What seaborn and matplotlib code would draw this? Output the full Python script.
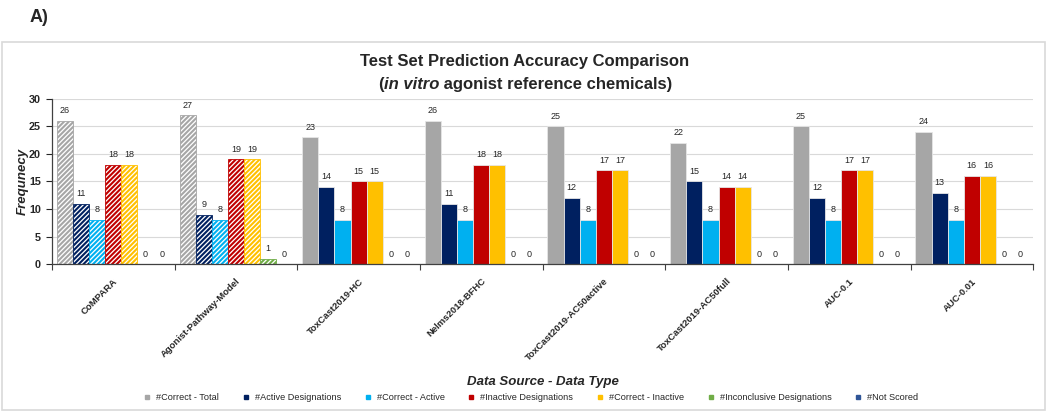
import matplotlib
matplotlib.use('Agg')
import matplotlib.pyplot as plt
from matplotlib.lines import Line2D
from matplotlib.patches import Rectangle
import seaborn as sns
import pandas as pd

# data
sources = ['CoMPARA', 'Agonist-Pathway-Model', 'ToxCast2019-HC', 'Nelms2018-BFHC',
           'ToxCast2019-AC50active', 'ToxCast2019-AC50full', 'AUC-0.1', 'AUC-0.01']
measures = ['#Correct - Total', '#Active Designations', '#Correct - Active',
            '#Inactive Designations', '#Correct - Inactive',
            '#Inconclusive Designations', '#Not Scored']
correct_total = [26, 27, 23, 26, 25, 22, 25, 24]
active_desig = [11, 9, 14, 11, 12, 15, 12, 13]
correct_active = [8, 8, 8, 8, 8, 8, 8, 8]
inactive_desig = [18, 19, 15, 18, 17, 14, 17, 16]
correct_inactive = [18, 19, 15, 18, 17, 14, 17, 16]
inconclusive = [0, 1, 0, 0, 0, 0, 0, 0]
not_scored = [0, 0, 0, 0, 0, 0, 0, 0]
hatched_sources = ['CoMPARA', 'Agonist-Pathway-Model']

colors = ['#A6A6A6', '#002060', '#00B0F0', '#C00000', '#FFC000', '#70AD47', '#2F5597']

series = [correct_total, active_desig, correct_active, inactive_desig,
          correct_inactive, inconclusive, not_scored]
rows = []
for m, vals in zip(measures, series):
    for s, v in zip(sources, vals):
        rows.append({'source': s, 'measure': m, 'count': v})
df = pd.DataFrame(rows)

sns.set_style('white')
plt.rcParams['font.family'] = ['Liberation Sans', 'DejaVu Sans']
plt.rcParams['hatch.linewidth'] = 1.5

fig = plt.figure(figsize=(10.5, 4.12), dpi=100)
ax = fig.add_axes([0.0495, 0.359, 0.9345, 0.401])

sns.barplot(data=df, x='source', y='count', hue='measure', order=sources,
            hue_order=measures, palette=colors, saturation=1, width=0.92, gap=0,
            edgecolor='#E6E6E6', linewidth=0.6, legend=False, ax=ax)

# hatched bars for the first two sources
for cont, col in zip(ax.containers, colors):
    for bar in cont:
        idx = int(round(bar.get_x() + bar.get_width() / 2))
        if sources[idx] in hatched_sources:
            bar.set_facecolor('white')
            bar.set_edgecolor(col)
            bar.set_hatch('///////')
            bar.set_linewidth(0.6)
    ax.bar_label(cont, fmt='%g', padding=4, fontsize=6.5, color='#262626')

ax.set_ylim(0, 30)
ax.set_xlim(-0.5, len(sources) - 0.5)
ax.set_yticks(range(0, 31, 5))
ax.yaxis.grid(True, color='#D9D9D9', linewidth=0.8)
ax.set_axisbelow(True)
for side in ['top', 'right']:
    ax.spines[side].set_visible(False)
for side in ['left', 'bottom']:
    ax.spines[side].set_color('#404040')
    ax.spines[side].set_linewidth(0.9)

ax.tick_params(axis='y', left=True, length=4, width=0.8, labelsize=7.8, pad=4)
for lab in ax.get_yticklabels():
    lab.set_fontweight('bold')
ax.set_xticks(range(len(sources)))
ax.set_xticklabels(sources, rotation=45, ha='right', rotation_mode='anchor',
                   fontsize=6.8, fontweight='bold')
ax.tick_params(axis='x', which='major', length=0, pad=9)
ax.set_xticks([i + 0.5 for i in range(-1, len(sources))], minor=True)
ax.tick_params(axis='x', which='minor', bottom=True, length=4, width=0.8, color='#404040')

ax.set_xlabel('Data Source - Data Type', fontsize=9.5, fontweight='bold',
              fontstyle='italic')
ax.xaxis.set_label_coords(0.5, -0.68)
ax.set_ylabel('Frequnecy', fontsize=9.5, fontweight='bold', fontstyle='italic', labelpad=0)

# title, second line with italic part
fig.text(0.5, 0.85, 'Test Set Prediction Accuracy Comparison', ha='center',
         va='center', fontsize=12, fontweight='bold')
parts = [('(', 'normal'), ('in vitro', 'italic'), (' agonist reference chemicals)', 'normal')]
renderer = fig.canvas.get_renderer()
texts = []
for s, st in parts:
    t = fig.text(0, 0.795, s, ha='left', va='center', fontsize=12,
                 fontweight='bold', fontstyle=st)
    texts.append(t)
widths = [t.get_window_extent(renderer).width for t in texts]
x = (fig.bbox.width - sum(widths)) / 2
for t, w in zip(texts, widths):
    t.set_x(x / fig.bbox.width)
    x += w

fig.text(0.028, 0.958, 'A)', fontsize=13, fontweight='bold', va='center')

# outer frame
fig.patches.append(Rectangle((0.002, 0.005), 0.993, 0.893, transform=fig.transFigure,
                             fill=False, edgecolor='#D9D9D9', linewidth=1.2))

handles = [Line2D([], [], marker='s', linestyle='', color=c, markersize=3.5) for c in colors]
fig.legend(handles, measures, loc='center', bbox_to_anchor=(0.503, 0.034), ncol=7,
           frameon=False, handletextpad=0.0, columnspacing=1.9,
           prop={'family': ['Liberation Sans Narrow', 'Liberation Sans'], 'size': 6.6})

fig.savefig('out.png', dpi=100)
